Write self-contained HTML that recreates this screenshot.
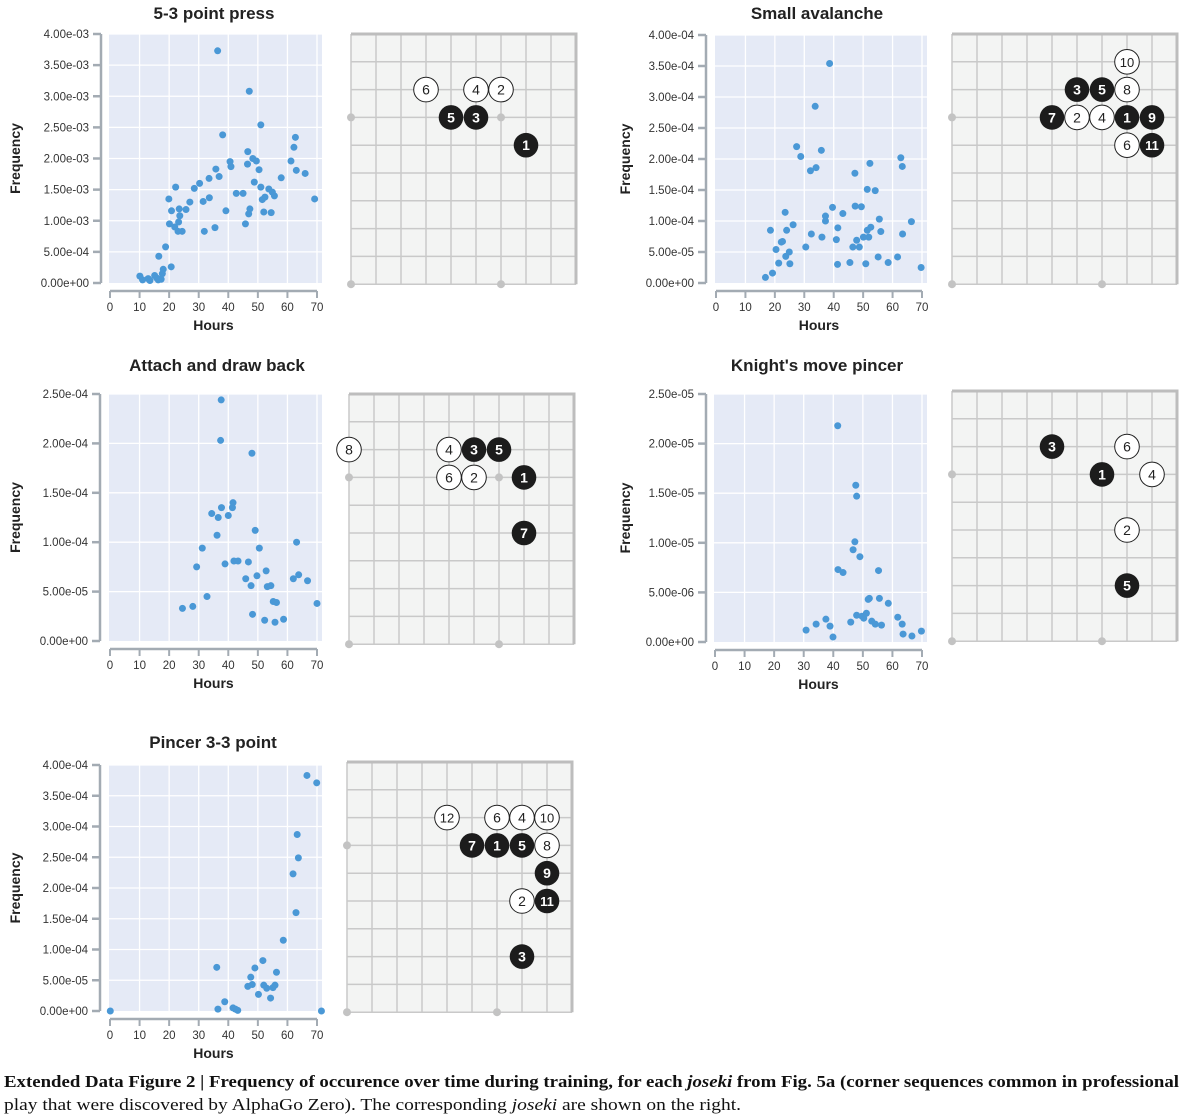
<!DOCTYPE html>
<html><head><meta charset="utf-8">
<style>
html,body{margin:0;padding:0;background:#fff;}
svg{display:block;}
text{font-family:"Liberation Sans",sans-serif;}
</style></head>
<body>
<svg id="fig" width="1190" height="1120" viewBox="0 0 1190 1120" xmlns="http://www.w3.org/2000/svg">
<text x="4" y="1087" textLength="1175" lengthAdjust="spacingAndGlyphs" style="font-family:'Liberation Serif',serif;font-size:17px;font-weight:bold;fill:#111">Extended Data Figure 2 | Frequency of occurence over time during training, for each <tspan font-style="italic">joseki</tspan> from Fig. 5a (corner sequences common in professional</text>
<text x="4" y="1110" textLength="737" lengthAdjust="spacingAndGlyphs" style="font-family:'Liberation Serif',serif;font-size:17px;fill:#111">play that were discovered by AlphaGo Zero). The corresponding <tspan font-style="italic">joseki</tspan> are shown on the right.</text>
</svg>
<script>
// ---- Chart data ----
const p1Hours=[36.4,47.1,51.0,38.1,62.7,62.2,46.6,48.3,49.5,61.2,40.6,40.9,46.5,35.8,50.4,63.0,66.0,33.5,36.9,57.9,30.3,48.8,51.0,28.5,22.2,53.7,54.9,55.6,42.7,45.0,52.4,51.5,19.9,33.6,31.5,27.0,69.2,25.7,23.4,20.8,39.2,47.3,46.9,52.0,54.5,23.6,23.2,20.1,45.8,21.9,35.5,23.0,24.4,31.9,18.8,16.5,20.7,18.0,17.7,15.1,10.1,11.0,12.9,13.5,16.3,17.3,15.8];
const p1Freq=[3.73,3.08,2.54,2.38,2.34,2.18,2.11,2.00,1.96,1.96,1.95,1.87,1.91,1.83,1.82,1.81,1.76,1.68,1.71,1.69,1.60,1.62,1.54,1.52,1.54,1.51,1.46,1.40,1.44,1.44,1.38,1.34,1.35,1.37,1.31,1.30,1.35,1.18,1.19,1.16,1.16,1.19,1.11,1.14,1.13,1.08,0.98,0.95,0.95,0.90,0.89,0.83,0.83,0.83,0.58,0.43,0.26,0.22,0.15,0.12,0.11,0.05,0.07,0.04,0.05,0.06,0.08];
const p1Ticks=[0,0.5,1,1.5,2,2.5,3,3.5,4];
const p2Hours=[38.6,33.7,27.4,35.8,28.8,62.8,63.3,52.3,34.0,32.1,47.2,51.4,54.1,39.6,47.3,49.4,43.1,23.5,37.2,37.2,55.5,66.4,26.2,18.5,24.0,41.4,52.6,51.4,56.0,32.4,63.4,36.0,50.1,51.9,40.9,47.8,22.6,22.2,46.5,48.7,30.5,20.4,24.9,23.7,55.1,61.7,21.3,25.1,41.3,45.5,50.9,58.5,69.7,19.2,16.8];
const p2Freq=[3.54,2.85,2.20,2.14,2.04,2.02,1.88,1.93,1.86,1.81,1.77,1.51,1.49,1.22,1.24,1.23,1.12,1.14,1.08,1.00,1.03,0.99,0.94,0.85,0.85,0.89,0.90,0.85,0.83,0.79,0.79,0.74,0.74,0.74,0.70,0.69,0.67,0.66,0.58,0.58,0.58,0.54,0.50,0.43,0.42,0.42,0.32,0.31,0.30,0.33,0.31,0.33,0.25,0.16,0.09];
const p2Ticks=[0,0.5,1,1.5,2,2.5,3,3.5,4];
const p3Hours=[37.6,37.4,48.0,41.6,41.4,37.7,34.4,36.6,40.0,49.1,36.2,63.1,31.2,50.5,29.3,38.9,41.9,43.3,46.8,52.8,49.7,63.8,62.0,66.8,45.9,47.7,53.2,54.4,32.8,24.5,28.0,55.2,56.3,70.0,48.2,52.3,55.8,58.7];
const p3Freq=[2.44,2.03,1.90,1.40,1.35,1.35,1.29,1.25,1.27,1.12,1.07,1.00,0.94,0.94,0.75,0.78,0.81,0.81,0.80,0.71,0.66,0.67,0.63,0.61,0.63,0.56,0.55,0.56,0.45,0.33,0.35,0.40,0.39,0.38,0.27,0.21,0.19,0.22];
const p3Ticks=[0,0.5,1,1.5,2,2.5];
const p4Hours=[41.5,47.6,47.9,47.3,46.7,49.0,41.6,43.3,55.3,51.8,52.2,55.6,58.6,47.9,49.7,51.2,50.3,45.9,53.0,54.2,56.3,61.8,63.3,37.5,38.9,34.2,30.8,39.9,63.6,66.6,69.8];
const p4Freq=[21.8,15.8,14.7,10.1,9.3,8.6,7.3,7.0,7.2,4.3,4.4,4.4,3.9,2.7,2.6,2.9,2.4,2.0,2.1,1.8,1.7,2.5,1.8,2.3,1.6,1.8,1.2,0.5,0.8,0.6,1.1];
const p4Ticks=[0,5,10,15,20,25];
const p5Hours=[66.6,69.9,63.3,63.7,61.9,62.9,58.6,36.1,51.7,49.0,56.3,47.6,48.1,46.6,52.0,53.0,55.1,55.8,50.2,54.3,38.8,36.5,41.6,43.2,42.4,0.1,71.5];
const p5Freq=[3.83,3.71,2.87,2.49,2.23,1.60,1.15,0.71,0.82,0.70,0.63,0.55,0.43,0.40,0.42,0.37,0.38,0.42,0.27,0.21,0.15,0.03,0.05,0.01,0.03,0,0];
const p5Ticks=[0,0.5,1,1.5,2,2.5,3,3.5,4];
const xTicks=[0,10,20,30,40,50,60,70];

// Board stones: [col,row,number,color]
const b1Stones=[[3,2,6,'w'],[5,2,4,'w'],[6,2,2,'w'],[4,3,5,'b'],[5,3,3,'b'],[7,4,1,'b']];
const b2Stones=[[7,1,10,'w'],[5,2,3,'b'],[6,2,5,'b'],[7,2,8,'w'],[4,3,7,'b'],[5,3,2,'w'],[6,3,4,'w'],[7,3,1,'b'],[8,3,9,'b'],[7,4,6,'w'],[8,4,11,'b']];
const b3Stones=[[0,2,8,'w'],[4,2,4,'w'],[5,2,3,'b'],[6,2,5,'b'],[4,3,6,'w'],[5,3,2,'w'],[7,3,1,'b'],[7,5,7,'b']];
const b4Stones=[[4,2,3,'b'],[7,2,6,'w'],[6,3,1,'b'],[8,3,4,'w'],[7,5,2,'w'],[7,7,5,'b']];
const b5Stones=[[4,2,12,'w'],[6,2,6,'w'],[7,2,4,'w'],[8,2,10,'w'],[5,3,7,'b'],[6,3,1,'b'],[7,3,5,'b'],[8,3,8,'w'],[8,4,9,'b'],[7,5,2,'w'],[8,5,11,'b'],[7,7,3,'b']];
const starPts=[[0,3],[6,3],[0,9],[6,9]];

const NS='http://www.w3.org/2000/svg';
const svg=document.getElementById('fig');
function mk(tag,attrs,parent){const e=document.createElementNS(NS,tag);for(const k in attrs)e.setAttribute(k,attrs[k]);(parent||svg).appendChild(e);return e;}
function txt(s,attrs,parent){const e=mk('text',attrs,parent);e.textContent=s;return e;}
function fmt(v,exp){ // v scaled by 10^exp
  if(v===0) return '0.00e+00';
  let val=v*Math.pow(10,exp);let e=Math.floor(Math.log10(val)+1e-9);let m=val/Math.pow(10,e);
  const s=e<0?'-':'+';const a=Math.abs(e);return m.toFixed(2)+'e'+s+(a<10?'0':'')+a;
}

function scatter(cfg){
  const g=mk('g',{});
  
  
  const sx=h=>cfg.x0+(cfg.x70-cfg.x0)*h/70;
  const yMax=cfg.ticks[cfg.ticks.length-1];
  const sy=v=>cfg.yB-(cfg.yB-cfg.yT)*v/yMax;
  const bg=mk('rect',{x:cfg.x0-1,y:cfg.yT,width:cfg.x70-cfg.x0+6,height:cfg.yB-cfg.yT,fill:'#e5eaf6'},g);
  
  
  xTicks.forEach(t=>{if(t>0)mk('line',{x1:sx(t),x2:sx(t),y1:cfg.yT,y2:cfg.yB,stroke:'#fff','stroke-width':1.3},g);});
  cfg.ticks.forEach(t=>{if(t>0)mk('line',{x1:cfg.x0-1,x2:cfg.x70+5,y1:sy(t),y2:sy(t),stroke:'#fff','stroke-width':1.3},g);});
  // y axis
  const ya=mk('line',{x1:cfg.ax,x2:cfg.ax,y1:cfg.yT,y2:cfg.yB,stroke:'#a3abb3','stroke-width':2.5},g);
  
  
  cfg.ticks.forEach(t=>{
    mk('line',{x1:cfg.ax-8,x2:cfg.ax,y1:sy(t),y2:sy(t),stroke:'#a3abb3','stroke-width':2.5},g);
    const l=txt(fmt(t,cfg.exp),{x:cfg.ax-12,y:sy(t)+4,'text-anchor':'end','font-size':'11.5px',fill:'#333'},g);
    
    
  });
  // x axis
  const xy=cfg.yB+8;
  const xa=mk('line',{x1:cfg.x0,x2:cfg.x70,y1:xy,y2:xy,stroke:'#a3abb3','stroke-width':2.5},g);
  
  
  xTicks.forEach(t=>{
    mk('line',{x1:sx(t),x2:sx(t),y1:xy,y2:xy+7,stroke:'#a3abb3','stroke-width':2},g);
    const l=txt(String(t),{x:sx(t),y:xy+20,'text-anchor':'middle','font-size':'11.5px',fill:'#333'},g);
    
    
  });
  const xt=txt('Hours',{x:(cfg.x0+cfg.x70)/2,y:xy+39,'text-anchor':'middle','font-size':'14px','font-weight':'bold',fill:'#222'},g);
  
  
  const cy=(cfg.yT+cfg.yB)/2;
  const yt=txt('Frequency',{x:cfg.fx,y:cy,'text-anchor':'middle','font-size':'14px','font-weight':'bold',fill:'#222',transform:`rotate(-90 ${cfg.fx} ${cy})`},g);
  
  
  const ti=txt(cfg.title,{x:cfg.tx,y:cfg.ty,'text-anchor':'middle','font-size':'17px','font-weight':'bold',fill:'#222'},g);
  
  
  cfg.hours.forEach((h,i)=>{
    const c=mk('circle',{cx:sx(h),cy:sy(cfg.freq[i]),r:3.5,fill:'#4a98d6'},g);
    
    
  });
}

function board(cfg){
  const g=mk('g',{});
  
  
  const cw=25,ch=27.8,L=cfg.x,T=cfg.y,W=cw*9,H=ch*9;
  mk('rect',{x:L,y:T,width:W,height:H,fill:'#f3f4f3'},g);
  for(let i=0;i<=9;i++){
    mk('line',{x1:L+i*cw,x2:L+i*cw,y1:T,y2:T+H,stroke:'#c9c9c9','stroke-width':1.5},g);
    mk('line',{x1:L,x2:L+W,y1:T+i*ch,y2:T+i*ch,stroke:'#c9c9c9','stroke-width':1.5},g);
  }
  mk('line',{x1:L,x2:L+W+1.5,y1:T,y2:T,stroke:'#bdbdbd','stroke-width':3},g);
  mk('line',{x1:L+W,x2:L+W,y1:T,y2:T+H,stroke:'#bdbdbd','stroke-width':3},g);
  starPts.forEach(p=>mk('circle',{cx:L+p[0]*cw,cy:T+p[1]*ch,r:4,fill:'#c3c3c3'},g));
  cfg.stones.forEach(s=>{
    const cx=L+s[0]*cw,cy=T+s[1]*ch,b=s[3]==='b';
    const sg=mk('g',{},g);
    
    
    mk('circle',{cx:cx,cy:cy,r:12.3,fill:b?'#1c1c1c':'#fff',stroke:'#222','stroke-width':b?0:1},sg);
    txt(String(s[2]),{x:cx,y:cy+5,'text-anchor':'middle','font-size':s[2]>9?'13px':'14px','font-weight':b?'bold':'normal',fill:b?'#fff':'#222'},sg);
  });
}

scatter({name:'chart-5-3-point-press',title:'5-3 point press',tx:214,ty:19,x0:110,x70:317,yT:34,yB:283,ax:101,fx:20,exp:-3,ticks:p1Ticks,hours:p1Hours,freq:p1Freq});
scatter({name:'chart-small-avalanche',title:'Small avalanche',tx:817,ty:19,x0:716,x70:922,yT:35,yB:283,ax:706,fx:630,exp:-4,ticks:p2Ticks,hours:p2Hours,freq:p2Freq});
scatter({name:'chart-attach-and-draw-back',title:'Attach and draw back',tx:217,ty:371,x0:110,x70:317,yT:394,yB:641,ax:100,fx:20,exp:-4,ticks:p3Ticks,hours:p3Hours,freq:p3Freq});
scatter({name:'chart-knights-move-pincer',title:"Knight's move pincer",tx:817,ty:371,x0:715,x70:922,yT:394,yB:642,ax:706,fx:630,exp:-6,ticks:p4Ticks,hours:p4Hours,freq:p4Freq});
scatter({name:'chart-pincer-3-3-point',title:'Pincer 3-3 point',tx:213,ty:748,x0:110,x70:317,yT:765,yB:1011,ax:100,fx:20,exp:-4,ticks:p5Ticks,hours:p5Hours,freq:p5Freq});

board({name:'board-5-3-point-press',x:351,y:34,stones:b1Stones});
board({name:'board-small-avalanche',x:952,y:34,stones:b2Stones});
board({name:'board-attach-and-draw-back',x:349,y:394,stones:b3Stones});
board({name:'board-knights-move-pincer',x:952,y:391,stones:b4Stones});
board({name:'board-pincer-3-3-point',x:347,y:762,stones:b5Stones});
</script>
</body></html>
